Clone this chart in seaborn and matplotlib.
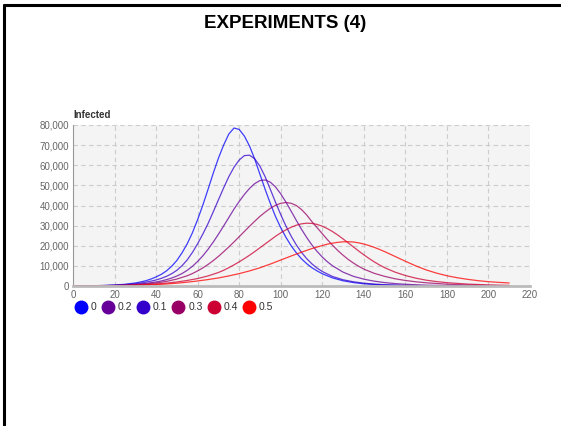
import matplotlib
matplotlib.use("Agg")
import matplotlib.pyplot as plt
from matplotlib.lines import Line2D
from matplotlib.ticker import FuncFormatter
import seaborn as sns
import pandas as pd

# ---- data ----
series_names = ["0", "0.1", "0.2", "0.3", "0.4", "0.5"]
legend_order = ["0", "0.2", "0.1", "0.3", "0.4", "0.5"]
colors = {"0": "#0000ff", "0.2": "#660099", "0.1": "#3300cc",
          "0.3": "#990066", "0.4": "#cc0033", "0.5": "#ff0000"}

x_0 = [0, 5, 10, 15, 20, 25, 30, 32.5, 35, 37.5, 40, 42.5, 45, 47.5, 50, 52.5, 55, 57.5,
       60, 62.5, 65, 67.5, 70, 72.5, 75, 77.5, 80, 82.5, 85, 87.5, 90, 92.5, 95, 97.5,
       100, 102.5, 105, 107.5, 110, 112.5, 115, 117.5, 120, 125, 130, 135, 140, 145, 150,
       155, 160, 170, 180, 190, 200, 210]
y_0 = [50, 85, 150, 270, 480, 850, 1500, 2000, 2600, 3450, 4500, 5800, 7500, 9800, 12700,
       16500, 21000, 26500, 33000, 40200, 48000, 56000, 63500, 70000, 75500, 78500, 77800,
       74500, 69500, 63000, 55500, 48000, 41000, 34500, 29000, 24200, 20000, 16500, 13500,
       11100, 9100, 7500, 6100, 4000, 2600, 1700, 1100, 750, 500, 340, 230, 100, 50, 25,
       12, 6]

x_01 = [0, 5, 10, 15, 20, 25, 30, 32.5, 35, 37.5, 40, 42.5, 45, 47.5, 50, 52.5, 55, 57.5,
        60, 62.5, 65, 67.5, 70, 72.5, 75, 77.5, 80, 82.5, 85, 87.5, 90, 92.5, 95, 97.5,
        100, 102.5, 105, 107.5, 110, 112.5, 115, 117.5, 120, 125, 130, 135, 140, 145, 150,
        155, 160, 170, 180, 190, 200, 210]
y_01 = [40, 70, 120, 220, 380, 650, 1100, 1450, 1900, 2400, 3000, 3800, 4800, 6100, 7800,
        10100, 13000, 16700, 21000, 25800, 31000, 36800, 42800, 48700, 54300, 59000, 62600,
        64800, 65000, 63200, 59500, 54300, 48000, 41600, 35500, 29800, 24800, 20400, 16700,
        13600, 11000, 8900, 7200, 4700, 3100, 2100, 1400, 950, 650, 440, 300, 140, 65, 30,
        15, 7]

x_02 = [0, 5, 10, 15, 20, 25, 30, 35, 40, 42.5, 45, 47.5, 50, 52.5, 55, 57.5, 60, 62.5,
        65, 67.5, 70, 72.5, 75, 77.5, 80, 82.5, 85, 87.5, 90, 92.5, 95, 97.5, 100, 102.5,
        105, 107.5, 110, 112.5, 115, 117.5, 120, 122.5, 125, 130, 135, 140, 145, 150, 155,
        160, 170, 180, 190, 200, 210]
y_02 = [30, 55, 100, 170, 300, 490, 800, 1280, 2000, 2500, 3150, 3950, 4950, 6200, 7800,
        9800, 12200, 15000, 18200, 21800, 25700, 29800, 34000, 38200, 42000, 45500, 48500,
        50900, 52400, 52700, 51600, 49200, 45800, 41700, 37200, 32600, 28200, 24100, 20400,
        17200, 14400, 12000, 10000, 6900, 4800, 3400, 2400, 1700, 1200, 850, 400, 190, 90,
        45, 22]

x_03 = [0, 5, 10, 15, 20, 25, 30, 35, 40, 45, 50, 55, 57.5, 60, 62.5, 65, 67.5, 70, 72.5,
        75, 77.5, 80, 82.5, 85, 87.5, 90, 92.5, 95, 97.5, 100, 102.5, 105, 107.5, 110,
        112.5, 115, 117.5, 120, 122.5, 125, 127.5, 130, 132.5, 135, 137.5, 140, 145, 150,
        155, 160, 165, 170, 180, 190, 200, 210]
y_03 = [25, 45, 80, 140, 230, 380, 600, 950, 1500, 2300, 3450, 5100, 6200, 7500, 9000,
        10700, 12600, 14700, 17000, 19400, 21900, 24500, 27100, 29700, 32200, 34600, 36700,
        38600, 40100, 41100, 41500, 41100, 40000, 38000, 35300, 32000, 29000, 26000, 23000,
        20200, 17600, 15300, 13200, 11400, 9800, 8400, 6300, 4800, 3600, 2750, 2100, 1600,
        900, 500, 260, 140]

x_04 = [0, 5, 10, 15, 20, 25, 30, 35, 40, 45, 50, 55, 60, 65, 70, 72.5, 75, 77.5, 80,
        82.5, 85, 87.5, 90, 92.5, 95, 97.5, 100, 102.5, 105, 107.5, 110, 112.5, 115, 117.5,
        120, 122.5, 125, 127.5, 130, 132.5, 135, 137.5, 140, 142.5, 145, 147.5, 150, 155,
        160, 165, 170, 175, 180, 190, 200, 210]
y_04 = [20, 35, 60, 100, 170, 270, 430, 660, 1000, 1450, 2000, 2750, 3700, 5000, 6700,
        7800, 9100, 10500, 12000, 13600, 15300, 17100, 19000, 20900, 22800, 24700, 26400,
        27900, 29200, 30200, 30900, 31200, 31100, 30600, 29700, 28500, 27000, 25300, 23400,
        21400, 19400, 17400, 15500, 13700, 12000, 10500, 9100, 6900, 5200, 3900, 2900, 2200,
        1650, 950, 530, 300]

x_05 = [0, 5, 10, 15, 20, 25, 30, 35, 40, 45, 50, 55, 60, 65, 70, 75, 80, 85, 90, 95, 100,
        105, 110, 115, 120, 122.5, 125, 127.5, 130, 132.5, 135, 137.5, 140, 142.5, 145,
        147.5, 150, 152.5, 155, 157.5, 160, 165, 170, 175, 180, 185, 190, 195, 200, 205, 210]
y_05 = [15, 25, 45, 80, 130, 210, 320, 480, 700, 1000, 1400, 1900, 2500, 3200, 4000, 5000,
        6150, 7500, 9050, 10900, 12900, 14900, 16800, 18600, 20100, 20800, 21300, 21700,
        21950, 22000, 21850, 21450, 20850, 20100, 19200, 18200, 17100, 15900, 14700, 13500,
        12300, 10000, 8000, 6400, 5100, 4100, 3300, 2650, 2150, 1800, 1500]

x_ticks = [0, 20, 40, 60, 80, 100, 120, 140, 160, 180, 200, 220]
y_ticks = [0, 10000, 20000, 30000, 40000, 50000, 60000, 70000, 80000]
title_text = "EXPERIMENTS (4)"
y_title = "Infected"

xs = {"0": x_0, "0.1": x_01, "0.2": x_02, "0.3": x_03, "0.4": x_04, "0.5": x_05}
ys = {"0": y_0, "0.1": y_01, "0.2": y_02, "0.3": y_03, "0.4": y_04, "0.5": y_05}
frames = [pd.DataFrame({"day": xs[k], "infected": ys[k], "series": k}) for k in series_names]
df = pd.concat(frames, ignore_index=True)

# ---- figure ----
sns.set_theme(style="white")
plt.rcParams["font.family"] = ["Liberation Sans", "DejaVu Sans"]

fig = plt.figure(figsize=(5.61, 4.26), dpi=100)
ax = fig.add_axes([73 / 561, 1 - 286 / 426, (530 - 73) / 561, (286 - 125) / 426])
ax.set_facecolor("#f4f4f4")

sns.lineplot(data=df, x="day", y="infected", hue="series", hue_order=series_names,
             palette=colors, linewidth=0.9, alpha=0.75, ax=ax, legend=False,
             estimator=None, sort=False)

ax.set_xlim(0, 220)
ax.set_ylim(0, 80000)
ax.set_xticks(x_ticks)
ax.set_yticks(y_ticks)
ax.yaxis.set_major_formatter(FuncFormatter(lambda v, p: f"{int(v):,}"))
ax.grid(True, color="#cccccc", linestyle=(0, (4, 3)), linewidth=0.8)
ax.set_axisbelow(True)
ax.tick_params(axis="both", length=0, labelsize=7, colors="#666666", pad=3)
ax.set_xlabel("")
ax.set_ylabel("")
for s in ["top", "right"]:
    ax.spines[s].set_visible(False)
ax.spines["left"].set_color("#999999")
ax.spines["left"].set_linewidth(0.8)
ax.spines["bottom"].set_color("#bbbbbb")
ax.spines["bottom"].set_linewidth(2)

ax.text(0, 1.03, y_title, transform=ax.transAxes, fontsize=7, fontweight="bold",
        color="#333333", ha="left", va="bottom")

fig.text(285 / 561, 1 - 23 / 426, title_text, fontsize=13.5, fontweight="bold",
         ha="center", va="center", color="#000000")

handles = [Line2D([0], [0], marker="o", linestyle="none", markersize=9,
                  markerfacecolor=colors[k], markeredgecolor=colors[k]) for k in legend_order]
leg = ax.legend(handles, legend_order, loc="upper left", bbox_to_anchor=(-0.005, -0.075),
                ncol=6, frameon=False, fontsize=7.5, handletextpad=0.35,
                columnspacing=0.45, borderaxespad=0, handlelength=1.2)
for t in leg.get_texts():
    t.set_color("#333333")

# outer frame (left and top edges)
fig.add_artist(Line2D([3.5 / 561, 3.5 / 561], [0, 1 - 5 / 426], color="black", linewidth=2.2,
                      transform=fig.transFigure))
fig.add_artist(Line2D([3.5 / 561, 1], [1 - 5 / 426, 1 - 5 / 426], color="black", linewidth=2.2,
                      transform=fig.transFigure))

fig.savefig("out.png", dpi=100, facecolor="white")
